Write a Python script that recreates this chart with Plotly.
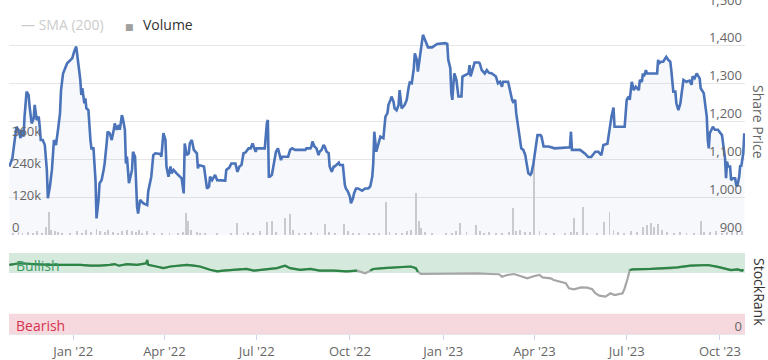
import plotly.graph_objects as go

# ---------------- data ----------------
price_dates = [
"2021-10-30","2021-11-02","2021-11-06","2021-11-08","2021-11-10","2021-11-11","2021-11-13","2021-11-14","2021-11-16","2021-11-18",
"2021-11-19","2021-11-21","2021-11-23","2021-11-24","2021-11-26","2021-11-28","2021-11-29","2021-11-30","2021-12-02","2021-12-04",
"2021-12-06","2021-12-07","2021-12-09","2021-12-11","2021-12-13","2021-12-15","2021-12-17","2021-12-19","2021-12-20","2021-12-22",
"2021-12-26","2021-12-29","2021-12-31","2022-01-02","2022-01-04","2022-01-06","2022-01-08","2022-01-09","2022-01-10","2022-01-12",
"2022-01-13","2022-01-14","2022-01-16","2022-01-18","2022-01-19","2022-01-21","2022-01-23","2022-01-24","2022-01-26","2022-01-27",
"2022-01-29","2022-01-31","2022-02-01","2022-02-03","2022-02-04","2022-02-06","2022-02-08","2022-02-10","2022-02-11","2022-02-13",
"2022-02-15","2022-02-16","2022-02-18","2022-02-19","2022-02-21","2022-02-22","2022-02-23","2022-02-25","2022-02-26","2022-02-28",
"2022-03-01","2022-03-03","2022-03-05","2022-03-06","2022-03-08","2022-03-11","2022-03-15","2022-03-16","2022-03-19","2022-03-21",
"2022-03-23","2022-03-28","2022-03-29","2022-03-31","2022-04-02","2022-04-03","2022-04-05","2022-04-07","2022-04-08","2022-04-10",
"2022-04-13","2022-04-18","2022-04-20","2022-04-21","2022-04-23","2022-04-25","2022-04-26","2022-04-28","2022-04-30","2022-05-03",
"2022-05-04","2022-05-05","2022-05-10","2022-05-12","2022-05-13","2022-05-15","2022-05-16","2022-05-18","2022-05-21","2022-05-23",
"2022-05-31","2022-06-01","2022-06-04","2022-06-06","2022-06-10","2022-06-12","2022-06-14","2022-06-16","2022-06-18","2022-06-20",
"2022-06-23","2022-06-25","2022-06-27","2022-06-28","2022-06-30","2022-07-01","2022-07-09","2022-07-11","2022-07-12","2022-07-13",
"2022-07-14","2022-07-16","2022-07-18","2022-07-20","2022-07-22","2022-07-23","2022-07-25","2022-07-26","2022-08-01","2022-08-03",
"2022-08-05","2022-08-08","2022-08-18","2022-08-19","2022-08-23","2022-08-24","2022-08-25","2022-08-27","2022-08-29","2022-08-31",
"2022-09-01","2022-09-03","2022-09-05","2022-09-06","2022-09-08","2022-09-10","2022-09-11","2022-09-13","2022-09-15","2022-09-16",
"2022-09-20","2022-09-21","2022-09-24","2022-09-26","2022-09-27","2022-09-29","2022-10-01","2022-10-02","2022-10-04","2022-10-05",
"2022-10-07","2022-10-09","2022-10-13","2022-10-16","2022-10-19","2022-10-21","2022-10-23","2022-10-24","2022-10-25","2022-10-27",
"2022-10-29","2022-10-31","2022-11-03","2022-11-05","2022-11-07","2022-11-08","2022-11-10","2022-11-11","2022-11-13","2022-11-14",
"2022-11-16","2022-11-18","2022-11-19","2022-11-21","2022-11-24","2022-11-26","2022-11-28","2022-11-29","2022-12-01","2022-12-03",
"2022-12-04","2022-12-06","2022-12-07","2022-12-09","2022-12-11","2022-12-12","2022-12-14","2022-12-16","2022-12-17","2022-12-21",
"2022-12-26","2023-01-03","2023-01-05","2023-01-06","2023-01-08","2023-01-09","2023-01-10","2023-01-11","2023-01-12","2023-01-14",
"2023-01-15","2023-01-16","2023-01-19","2023-01-20","2023-01-26","2023-01-27","2023-01-28","2023-01-30","2023-02-01","2023-02-05",
"2023-02-06","2023-02-08","2023-02-11","2023-02-13","2023-02-15","2023-02-18","2023-02-22","2023-02-24","2023-02-26","2023-02-28",
"2023-03-01","2023-03-06","2023-03-08","2023-03-10","2023-03-11","2023-03-13","2023-03-14","2023-03-16","2023-03-18","2023-03-19",
"2023-03-21","2023-03-23","2023-03-24","2023-03-26","2023-03-28","2023-03-29","2023-03-31","2023-04-02","2023-04-04","2023-04-07",
"2023-04-08","2023-04-10","2023-04-15","2023-04-21","2023-05-06","2023-05-07","2023-05-08","2023-05-16","2023-05-19","2023-05-21",
"2023-05-24","2023-05-27","2023-05-31","2023-06-03","2023-06-06","2023-06-08","2023-06-12","2023-06-14","2023-06-16","2023-06-18",
"2023-06-19","2023-06-29","2023-07-01","2023-07-03","2023-07-04","2023-07-06","2023-07-08","2023-07-10","2023-07-13","2023-07-14",
"2023-07-16","2023-07-17","2023-07-18","2023-07-20","2023-07-21","2023-07-31","2023-08-01","2023-08-02","2023-08-04","2023-08-06",
"2023-08-08","2023-08-09","2023-08-11","2023-08-13","2023-08-14","2023-08-16","2023-08-18","2023-08-19","2023-08-21","2023-08-23",
"2023-08-24","2023-08-26","2023-08-29","2023-09-01","2023-09-03","2023-09-04","2023-09-06","2023-09-08","2023-09-11","2023-09-12",
"2023-09-15","2023-09-16","2023-09-18","2023-09-19","2023-09-20","2023-09-21","2023-09-23","2023-09-24","2023-09-26","2023-09-29",
"2023-10-03","2023-10-04","2023-10-06","2023-10-07","2023-10-08","2023-10-09","2023-10-11","2023-10-12","2023-10-14","2023-10-16",
"2023-10-17","2023-10-18","2023-10-20","2023-10-21","2023-10-22","2023-10-24","2023-10-25",
]
price_values = [
1081,1103,1186,1178,1156,1178,1160,1213,1279,1270,
1239,1195,1208,1244,1204,1213,1186,1151,1151,1138,
1072,997,1028,1072,1151,1138,1178,1222,1283,1327,
1354,1363,1367,1385,1398,1354,1310,1270,1288,1248,
1261,1235,1230,1151,1129,1129,1045,944,993,1037,
1045,1072,1089,1142,1173,1169,1151,1178,1195,1178,
1191,1178,1217,1208,1178,1089,1107,1037,1050,1072,
1120,1107,975,957,993,984,979,1015,1054,1111,
1116,1114,1107,1169,1151,1081,1054,1081,1063,1072,
1063,1050,1010,1142,1111,1116,1142,1151,1125,1116,
1076,1085,1081,1037,1023,1028,1054,1045,1059,1045,
1044,1072,1078,1089,1089,1067,1081,1085,1116,1118,
1129,1129,1142,1134,1120,1129,1129,1195,1204,1054,
1054,1059,1094,1120,1129,1120,1098,1107,1107,1125,
1129,1125,1125,1129,1129,1134,1147,1134,1129,1111,
1120,1125,1138,1134,1120,1116,1081,1067,1081,1081,
1091,1085,1085,1032,1023,1015,1001,984,997,1010,
1023,1023,1017,1023,1023,1028,1054,1089,1173,1120,
1138,1160,1156,1213,1222,1244,1257,1266,1252,1235,
1230,1244,1283,1235,1244,1257,1292,1303,1301,1341,
1380,1363,1332,1371,1411,1429,1416,1402,1396,1396,
1405,1407,1405,1363,1341,1275,1257,1297,1327,1310,
1283,1266,1266,1319,1327,1349,1319,1341,1356,1356,
1354,1336,1327,1336,1329,1327,1319,1301,1305,1292,
1305,1305,1279,1257,1252,1257,1222,1186,1142,1129,
1125,1111,1094,1063,1059,1063,1089,1125,1164,1164,
1160,1134,1134,1129,1132,1173,1125,1125,1120,1115,
1106,1106,1120,1120,1111,1138,1141,1178,1213,1237,
1186,1186,1257,1266,1257,1305,1283,1292,1283,1310,
1305,1327,1319,1336,1327,1327,1363,1354,1358,1358,
1367,1371,1363,1358,1336,1279,1279,1248,1230,1248,
1270,1310,1305,1308,1297,1319,1314,1327,1314,1288,
1275,1257,1213,1151,1129,1169,1182,1186,1178,1178,
1164,1142,1103,1050,1094,1081,1081,1045,1050,1050,
1032,1028,1054,1085,1081,1116,1169,
]

volume_dates = [
"2021-11-03","2021-11-08","2021-11-12","2021-11-17","2021-11-22","2021-11-26","2021-12-01","2021-12-05","2021-12-08","2021-12-10",
"2021-12-14","2021-12-17","2021-12-21","2021-12-29","2022-01-05","2022-01-10","2022-01-14","2022-01-19","2022-01-24","2022-01-27",
"2022-02-01","2022-02-04","2022-02-09","2022-02-14","2022-02-18","2022-02-23","2022-02-28","2022-03-04","2022-03-07","2022-03-10",
"2022-03-15","2022-03-22","2022-03-30","2022-04-06","2022-04-14","2022-04-19","2022-04-22","2022-04-24","2022-04-27","2022-05-03",
"2022-05-06","2022-05-11","2022-05-23","2022-06-06","2022-06-12","2022-06-18","2022-06-22","2022-06-27","2022-07-04","2022-07-11",
"2022-07-16","2022-07-20","2022-07-29","2022-08-03","2022-08-06","2022-08-12","2022-08-18","2022-08-24","2022-08-30","2022-09-06",
"2022-09-10","2022-09-16","2022-09-25","2022-09-29","2022-10-04","2022-10-10","2022-10-20","2022-10-25","2022-10-30","2022-11-06",
"2022-11-09","2022-11-15","2022-11-21","2022-11-26","2022-11-30","2022-12-05","2022-12-08","2022-12-10","2022-12-14","2022-12-21",
"2023-01-04","2023-01-10","2023-01-14","2023-01-18","2023-01-24","2023-02-02","2023-02-06","2023-02-10","2023-02-15","2023-02-22",
"2023-02-28","2023-03-07","2023-03-11","2023-03-14","2023-03-18","2023-03-23","2023-03-28","2023-04-01","2023-04-06","2023-04-12",
"2023-04-20","2023-05-01","2023-05-07","2023-05-10","2023-05-13","2023-05-19","2023-05-23","2023-06-02","2023-06-09","2023-06-14",
"2023-06-18","2023-06-22","2023-06-28","2023-07-05","2023-07-11","2023-07-17","2023-07-21","2023-07-25","2023-07-28","2023-08-01",
"2023-08-05","2023-08-10","2023-08-17","2023-08-23","2023-08-29","2023-09-05","2023-09-12","2023-09-15","2023-09-21","2023-09-27",
"2023-10-03","2023-10-08","2023-10-13","2023-10-18","2023-10-23",
]
volume_values = [
8000,12000,6000,10000,7000,14000,9000,30000,88000,20000,
16000,12000,8000,5000,14000,9000,18000,10000,22000,15000,
12000,18000,10000,8000,14000,20000,16000,12000,18000,9000,
14000,6000,8000,5000,7000,10000,83000,54000,20000,12000,
6000,9000,5000,4000,47000,8000,10000,9000,16000,50000,
54000,12000,65000,78000,20000,8000,6000,10000,9000,43000,
12000,6000,40000,14000,8000,6000,4000,9000,5000,126000,
10000,6000,8000,16000,20000,159000,54000,25000,12000,6000,
5000,9000,14000,47000,10000,38000,14000,8000,12000,6000,
9000,10000,102000,14000,18000,12000,10000,272000,14000,9000,
5000,6000,10000,65000,12000,107000,8000,5000,50000,88000,
20000,12000,8000,14000,10000,30000,38000,45000,32000,40000,
20000,12000,8000,10000,6000,9000,54000,12000,10000,14000,
8000,12000,16000,10000,14000,
]

rank_dates = [
"2021-10-30","2021-11-09","2021-11-23","2021-12-09","2021-12-26","2022-01-08","2022-01-18","2022-01-27","2022-02-06","2022-02-11",
"2022-02-15","2022-02-23","2022-03-05","2022-03-14","2022-03-15","2022-03-16","2022-03-24","2022-03-31","2022-04-07","2022-04-16",
"2022-04-23","2022-04-30","2022-05-06","2022-05-16","2022-05-23","2022-05-29","2022-06-08","2022-06-21","2022-06-28","2022-07-11",
"2022-07-21","2022-07-29","2022-08-03","2022-08-13","2022-08-23","2022-09-01","2022-09-15","2022-09-28","2022-10-08","2022-10-16",
"2022-10-21","2022-10-24","2022-11-03","2022-11-17","2022-11-30","2022-12-05","2022-12-07","2022-12-10","2022-12-23","2023-01-08",
"2023-01-22","2023-02-04","2023-02-17","2023-02-25","2023-02-28","2023-03-05","2023-03-12","2023-03-19","2023-03-25","2023-04-01",
"2023-04-06","2023-04-09","2023-04-17","2023-04-20","2023-04-27","2023-05-02","2023-05-05","2023-05-10","2023-05-17","2023-05-23",
"2023-05-28","2023-05-31","2023-06-04","2023-06-10","2023-06-15","2023-06-19","2023-06-27","2023-06-29","2023-07-02","2023-07-04",
"2023-07-07","2023-07-25","2023-08-13","2023-08-20","2023-09-02","2023-09-19","2023-09-28","2023-10-05","2023-10-12","2023-10-18",
"2023-10-23","2023-10-24",
]
rank_values = [
85,87,86,85,85,85,84,84,85,86,
84,86,85,87,91,85,83,81,83,84,
85,84,83,79,77,78,79,80,78,80,
81,84,81,79,80,78,78,77,78,74.6,
78,80,81,82,83,81,76.6,74,74,74.6,
74.8,74.5,73.8,73.5,70.5,72.6,73.8,70.5,68.5,71.3,
72.6,69.7,68.5,66.4,63.6,62.4,56.2,55,57.4,57,
55,50.1,47.1,45.9,50.1,48,50.1,56.2,68.5,78.7,
79.5,80,80.8,82,84.1,84.9,82.9,80.8,78.7,79.5,
77.9,79.5,
]
bullish_threshold = 75.5

x_ticks = ["2022-01-01","2022-04-01","2022-07-01","2022-10-01","2023-01-01","2023-04-01","2023-07-01","2023-10-01"]
price_ticks = [900, 1000, 1100, 1200, 1300, 1400, 1500]
volume_ticks = [0, 120000, 240000, 360000]
volume_tick_text = ["0", "120k", "240k", "360k"]

# ---------------- figure ----------------
FONT = "Open Sans, Noto Sans, DejaVu Sans, sans-serif"
W, H = 768, 360
ML, MR, MT, MB = 9, 23, 8, 26
plot_w = W - ML - MR
plot_h = H - MT - MB

def px_x(x):
    return (x - ML) / plot_w

def px_y(y):
    return (H - MB - y) / plot_h

fig = go.Figure()

fig.add_trace(go.Bar(
    x=volume_dates, y=volume_values, yaxis="y", xaxis="x",
    marker=dict(color="#cfcfcf", line=dict(width=0)),
    width=86400000 * 0.9, showlegend=False, hoverinfo="skip",
))

fig.add_trace(go.Scatter(
    x=price_dates, y=price_values, yaxis="y2", xaxis="x",
    mode="lines", line=dict(color="#4a73b9", width=2.6),
    fill="tozeroy", fillcolor="rgba(74,115,185,0.05)",
    showlegend=False,
))

fig.add_trace(go.Scatter(
    x=rank_dates, y=rank_values, yaxis="y3", xaxis="x",
    mode="lines", line=dict(color="#a6a6a6", width=2.2),
    showlegend=False,
))
green_vals = [v if v >= bullish_threshold else None for v in rank_values]
fig.add_trace(go.Scatter(
    x=rank_dates, y=green_vals, yaxis="y3", xaxis="x",
    mode="lines", line=dict(color="#2b8646", width=2.2),
    connectgaps=False, showlegend=False,
))

price_dom = [px_y(235), px_y(8)]
rank_dom = [0, px_y(252.7)]

fig.update_layout(
    width=W, height=H,
    margin=dict(l=ML, r=MR, t=MT, b=MB, pad=0),
    paper_bgcolor="white", plot_bgcolor="white",
    font=dict(family=FONT, size=13, color="#666666"),
    bargap=0,
    xaxis=dict(
        type="date", anchor="y3", domain=[0, 1],
        range=["2021-10-29 16:00", "2023-10-25 17:00"],
        tickvals=x_ticks, tickformat="%b '%y",
        ticks="outside", ticklen=5, tickcolor="#ccd6eb",
        showgrid=False, showline=True, linecolor="#e6e6e6",
        tickfont=dict(size=13, color="#666666"),
        zeroline=False, automargin=False,
    ),
    yaxis=dict(
        domain=price_dom, range=[0, 859000], side="left",
        tickvals=volume_ticks, ticktext=volume_tick_text,
        ticklabelposition="inside", ticklabelshift=-8,
        ticklabeloverflow="allow",
        showgrid=False, zeroline=False, showline=False, ticks="",
        tickfont=dict(size=13, color="#666666"), automargin=False,
    ),
    yaxis2=dict(
        overlaying="y", side="right", range=[900, 1500],
        tickvals=price_ticks, tickformat=",",
        ticklabelposition="inside", ticklabelshift=-8,
        ticklabeloverflow="allow",
        showgrid=True, gridcolor="#e6e6e6", gridwidth=1,
        zeroline=False, showline=False, ticks="",
        tickfont=dict(size=13, color="#666666"), automargin=False,
    ),
    yaxis3=dict(
        domain=rank_dom, range=[0, 100], side="right", anchor="x",
        tickvals=[0], ticktext=["0"],
        ticklabelposition="inside", ticklabelshift=-8,
        ticklabeloverflow="allow",
        showgrid=False, zeroline=False, showline=False, ticks="",
        tickfont=dict(size=13, color="#666666"), automargin=False,
    ),
    shapes=[
        dict(type="rect", xref="paper", yref="y3", x0=0, x1=1, y0=75, y1=100,
             fillcolor="#d5e9dc", line=dict(width=0), layer="below"),
        dict(type="rect", xref="paper", yref="y3", x0=0, x1=1, y0=0, y1=25,
             fillcolor="#f6d9de", line=dict(width=0), layer="below"),
    ],
    annotations=[
        dict(text="— SMA (200)", x=px_x(19), y=px_y(24), xref="paper", yref="paper",
             xanchor="left", yanchor="middle", showarrow=False,
             font=dict(family=FONT, size=14, color="#cccccc")),
        dict(text="■", x=px_x(123), y=px_y(26), xref="paper", yref="paper",
             xanchor="left", yanchor="middle", showarrow=False,
             font=dict(family=FONT, size=9, color="#a0a0a0")),
        dict(text="Volume", x=px_x(141), y=px_y(24), xref="paper", yref="paper",
             xanchor="left", yanchor="middle", showarrow=False,
             font=dict(family=FONT, size=14, color="#333333")),
        dict(text="Share Price", x=px_x(759), y=px_y(122), xref="paper", yref="paper",
             xanchor="center", yanchor="middle", showarrow=False, textangle=90,
             font=dict(family=FONT, size=14, color="#666666")),
        dict(text="StockRank", x=px_x(760), y=px_y(292), xref="paper", yref="paper",
             xanchor="center", yanchor="middle", showarrow=False, textangle=90,
             font=dict(family=FONT, size=14, color="#333333")),
        dict(text="Bullish", x=px_x(14), y=px_y(265), xref="paper", yref="paper",
             xanchor="left", yanchor="middle", showarrow=False,
             font=dict(family=FONT, size=14, color="#3a9a63")),
        dict(text="Bearish", x=px_x(14), y=px_y(325), xref="paper", yref="paper",
             xanchor="left", yanchor="middle", showarrow=False,
             font=dict(family=FONT, size=14, color="#d6334f")),
    ],
)

fig.write_html(
    "out.html",
    config={"displayModeBar": False},
    post_script="document.body.style.margin='0';document.body.style.overflow='hidden';",
)
